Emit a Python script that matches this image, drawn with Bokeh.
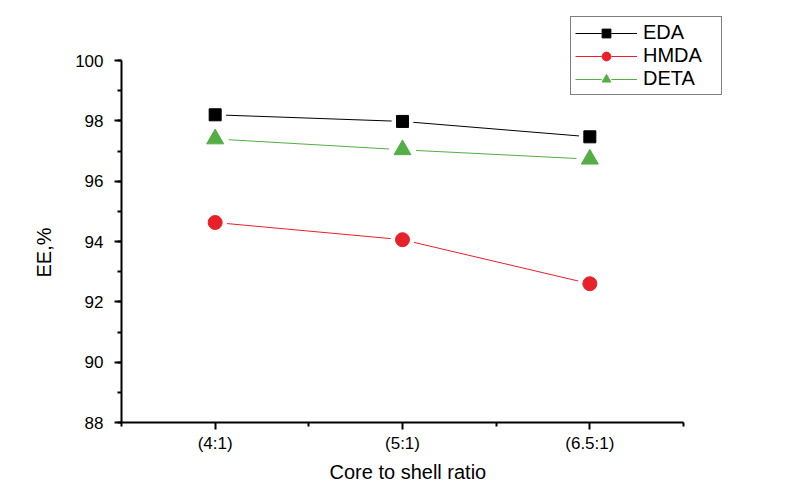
from bokeh.plotting import figure
from bokeh.models import FixedTicker, Legend, LegendItem, Range1d, Title
from bokeh.embed import file_html
from bokeh.resources import INLINE

categories = ["(4:1)", "(5:1)", "(6.5:1)"]
eda = [98.2, 97.98, 97.47]
hmda = [94.63, 94.06, 92.6]
deta = [97.4, 97.04, 96.73]
y_ticks = [88, 90, 92, 94, 96, 98, 100]

xs = [i + 1 for i in range(len(categories))]

# layout (pixels in the figure)
W, H = 800, 495
AX_L, AX_R, AX_T, AX_B = 121, 683, 60, 422   # where the drawn axes span
FR_T, FR_R = 10, 750                          # frame extends further for legend room
ymin, ymax = 88, 100
xmin, xmax = 0.5, 3.5
py = (AX_B - AX_T) / (ymax - ymin)
px = (AX_R - AX_L) / (xmax - xmin)
y_top = ymax + (AX_T - FR_T) / py
x_right = xmax + (FR_R - AX_R) / px

p = figure(width=W, height=H, output_backend="svg", toolbar_location=None,
           x_range=Range1d(xmin, x_right), y_range=Range1d(ymin, y_top),
           min_border_left=AX_L, min_border_right=W - FR_R,
           min_border_top=FR_T, min_border_bottom=H - AX_B)
p.outline_line_color = None
p.grid.visible = False
p.background_fill_color = "white"

FONT = "Liberation Sans"

p.xaxis.ticker = FixedTicker(ticks=xs, minor_ticks=[0.5, 1.5, 2.5, 3.5])
p.xaxis.major_label_overrides = {x: c for x, c in zip(xs, categories)}
p.yaxis.ticker = FixedTicker(ticks=y_ticks, minor_ticks=list(range(88, 101)))
p.xaxis.bounds = (xmin, xmax)
p.yaxis.bounds = (ymin, ymax)

for ax in (p.xaxis, p.yaxis):
    ax.axis_line_width = 2
    ax.axis_line_color = "black"
    ax.major_tick_line_width = 2
    ax.minor_tick_line_width = 2
    ax.major_tick_out = 7
    ax.major_tick_in = 0
    ax.minor_tick_out = 4
    ax.minor_tick_in = 0
    ax.major_label_text_font = FONT
    ax.major_label_text_font_size = "17px"
    ax.major_label_text_color = "black"

p.xaxis.major_label_standoff = 4
p.yaxis.major_label_standoff = 11

xlabel = Title(text="Core to shell ratio", align="left", offset=329 - AX_L,
               text_font=FONT, text_font_size="20px", text_font_style="normal",
               text_color="black", standoff=6)
ylabel = Title(text="EE,%", align="left", offset=AX_B - 277,
               text_font=FONT, text_font_size="20px", text_font_style="normal",
               text_color="black", standoff=36)
p.add_layout(xlabel, "below")
p.add_layout(ylabel, "left")

series = [
    ("EDA", eda, "black", "square", 12),
    ("HMDA", hmda, "#e8202a", "circle", 14),
    ("DETA", deta, "#55ad45", "triangle", 17),
]

items = []
for name, vals, col, mk, sz in series:
    ln = p.line(xs, vals, line_color=col, line_width=1)
    gap = p.scatter(xs, vals, marker="circle", size=sz + 9, fill_color="white", line_color="white")
    m = p.scatter(xs, vals, marker=mk, size=sz, fill_color=col, line_color=col)
    items.append(LegendItem(label=name, renderers=[ln, gap, m]))

legend = Legend(items=items, location=(570 - AX_L, AX_B - 95), border_line_color="black",
                border_line_width=1, padding=4, margin=0, spacing=0,
                label_height=22, glyph_height=22, glyph_width=62, label_standoff=6,
                label_width=74,
                label_text_font=FONT, label_text_font_size="20px", label_text_color="black",
                background_fill_alpha=1.0)
p.add_layout(legend, "center")

open("out.html", "w").write(file_html(p, INLINE))
